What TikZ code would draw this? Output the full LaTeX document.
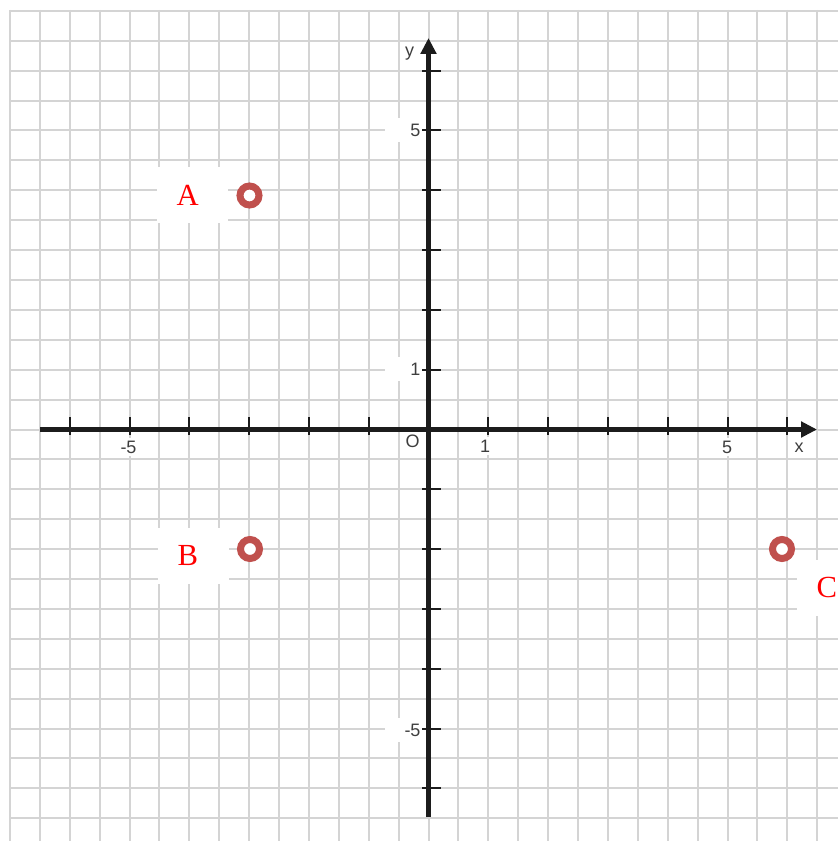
\documentclass[tikz,border=0pt]{standalone}
\usepackage{fontspec}
\setmainfont{Liberation Serif}
\newfontfamily\axisfont{Liberation Sans}
\usetikzlibrary{arrows.meta}

\definecolor{gridgray}{RGB}{212,212,212}
\definecolor{axisblack}{RGB}{28,28,28}
\definecolor{ringred}{RGB}{192,80,77}
\definecolor{numgray}{RGB}{62,62,62}

\tikzset{every picture/.style={line width=0.75pt}}
\tikzset{
  gridline/.style={color=gridgray, line width=1.5pt},
  axisline/.style={color=axisblack, line width=4pt, -{Triangle[length=12pt,width=11.5pt]}},
  tickline/.style={color=axisblack, line width=1.5pt},
  numlabel/.style={fill=white, text=numgray, font=\axisfont\fontsize{13.5}{16}\selectfont, inner sep=2pt},
  ynum/.style={anchor=east, text width=25.5pt, align=right, inner xsep=1.5pt, inner ysep=4pt},
  ptlabel/.style={anchor=north west, fill=white, text=red, font=\fontsize{23}{27}\selectfont, text width=23.25pt, align=left, inner xsep=15pt, inner ysep=0pt, minimum height=42pt},
  ptring/.style={circle, draw=ringred, line width=5.25pt, fill=white, minimum size=14.25pt, inner sep=0pt}
}

\begin{document}
\begin{tikzpicture}[x=0.75pt,y=0.75pt,yscale=-1,xscale=1]
		%set diagram left start at 0, and has height of 841
		\useasboundingbox (0,0) rectangle (838,841);
		\fill [white] (0,0) rectangle (838,841);
		
		%Grid
		\foreach \j in {-14,...,13} {
			\draw [gridline] ({428.5+29.9*\j},10) -- ({428.5+29.9*\j},841) ;
			\draw [gridline] (10,{429.5+29.9*\j}) -- (838,{429.5+29.9*\j}) ;
		}
		
		% Text Node
		\draw (409.5,53.5) node [numlabel] (lbly) {y};
		% Text Node
		\draw (423,130) node [numlabel, ynum] (lblyfive) {5};
		% Text Node
		\draw (423,369) node [numlabel, ynum] (lblyone) {1};
		% Text Node
		\draw (423,730) node [numlabel, ynum] (lblyminusfive) {-5};
		% Text Node
		\draw (412.5,441.5) node [numlabel] (lblO) {O};
		% Text Node
		\draw (128.5,447) node [numlabel] (lblxminusfive) {-5};
		% Text Node
		\draw (485,446) node [numlabel] (lblxone) {1};
		% Text Node
		\draw (727,447) node [numlabel] (lblxfive) {5};
		% Text Node
		\draw (799,448) node [numlabel] (lblx) {x};
		
		%Ticks
		\foreach \k in {-6,-5,-4,-3,-2,-1,1,2,3,4,5,6} {
			\draw [tickline] ({428.5+59.8*\k},417) -- ({428.5+59.8*\k},435) ;
			\draw [tickline] (422,{429.5-59.8*\k}) -- (441,{429.5-59.8*\k}) ;
		}
		
		%Axes
		\coordinate (xL) at (40,429.5);
		\coordinate (xR) at (817,429.5);
		\coordinate (yB) at (428.5,817);
		\coordinate (yT) at (428.5,38);
		%Straight Lines 
		\draw [axisline]  (xL) -- (xR) ;
		%Straight Lines 
		\draw [axisline]  (yB) -- (yT) ;
		
		%Shape: Circle 
		\draw (249.5,195.5) node [ptring] (ptA) {};
		%Shape: Circle 
		\draw (250,549) node [ptring] (ptB) {};
		%Shape: Circle 
		\draw (782,549) node [ptring] (ptC) {};
		
		% Text Node
		\draw (156,167) node [ptlabel] (lblA) {A};
		% Text Node
		\draw (157,527) node [ptlabel] (lblB) {B};
		% Text Node
		\draw (796,559) node [ptlabel] (lblC) {C};
\end{tikzpicture}
\end{document}
